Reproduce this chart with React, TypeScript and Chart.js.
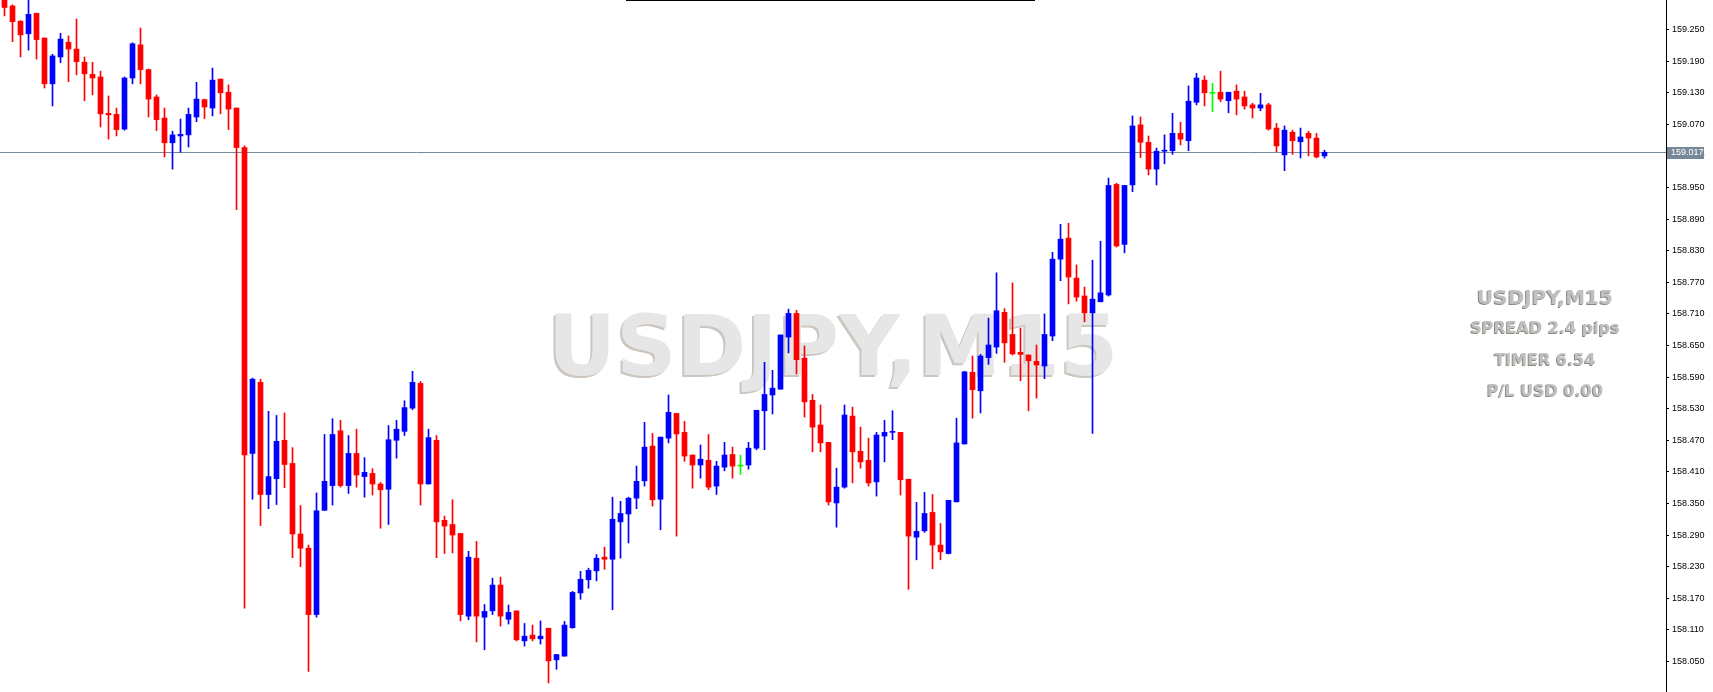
import React, { useEffect, useRef } from 'react';
import { Chart, registerables } from 'chart.js';

Chart.register(...registerables);

const opens = [
  159.310, 159.295, 159.266, 159.242, 159.281, 159.234, 159.147, 159.198, 159.226, 159.213,
  159.188, 159.165, 159.160, 159.091, 159.089, 159.061, 159.158, 159.221, 159.174, 159.122,
  159.082, 159.035, 159.048, 159.050, 159.084, 159.117, 159.101, 159.156, 159.131, 159.101,
  159.026, 158.445, 158.580, 158.367, 158.397, 158.470, 158.426, 158.292, 158.265, 158.139,
  158.337, 158.384, 158.488, 158.384, 158.445, 158.401, 158.407, 158.387, 158.377, 158.470,
  158.487, 158.531, 158.578, 158.387, 158.470, 158.318, 158.310, 158.293, 158.136, 158.246,
  158.134, 158.146, 158.195, 158.130, 158.146, 158.089, 158.100, 158.093, 158.113, 158.053,
  158.060, 158.114, 158.180, 158.205, 158.222, 158.248, 158.244, 158.315, 158.330, 158.360,
  158.393, 158.459, 158.358, 158.474, 158.521, 158.485, 158.442, 158.423, 158.432, 158.383,
  158.419, 158.443, 158.421, 158.423, 158.455, 158.526, 158.556, 158.567, 158.666, 158.711,
  158.626, 158.546, 158.499, 158.466, 158.351, 158.381, 158.516, 158.449, 158.432, 158.391,
  158.478, 158.485, 158.485, 158.396, 158.286, 158.298, 158.333, 158.271, 158.255, 158.353,
  158.463, 158.599, 158.564, 158.627, 158.647, 158.713, 158.671, 158.637, 158.632, 158.620,
  158.611, 158.668, 158.814, 158.854, 158.778, 158.744, 158.712, 158.733, 158.746, 158.956,
  158.842, 158.955, 159.069, 159.036, 158.985, 159.019, 159.020, 159.053, 159.039, 159.112,
  159.154, 159.129, 159.131, 159.115, 159.133, 159.122, 159.107, 159.101, 159.107, 159.063,
  159.012, 159.055, 159.037, 159.053, 159.044, 159.010,
];

const highs = [
  159.318, 159.297, 159.267, 159.310, 159.281, 159.234, 159.203, 159.243, 159.238, 159.270,
  159.198, 159.188, 159.171, 159.124, 159.101, 159.160, 159.225, 159.253, 159.175, 159.126,
  159.101, 159.057, 159.080, 159.101, 159.150, 159.118, 159.177, 159.156, 159.145, 159.101,
  159.029, 158.588, 158.586, 158.525, 158.517, 158.522, 158.456, 158.346, 158.271, 158.370,
  158.481, 158.511, 158.508, 158.479, 158.491, 158.437, 158.416, 158.390, 158.498, 158.508,
  158.545, 158.601, 158.582, 158.491, 158.479, 158.326, 158.357, 158.293, 158.259, 158.278,
  158.158, 158.208, 158.210, 158.157, 158.146, 158.122, 158.119, 158.127, 158.113, 158.063,
  158.126, 158.183, 158.221, 158.227, 158.253, 158.267, 158.362, 158.354, 158.362, 158.421,
  158.504, 158.483, 158.476, 158.556, 158.521, 158.506, 158.442, 158.461, 158.481, 158.430,
  158.466, 158.457, 158.442, 158.466, 158.527, 158.618, 158.603, 158.670, 158.719, 158.717,
  158.649, 158.557, 158.537, 158.466, 158.417, 158.537, 158.533, 158.495, 158.474, 158.485,
  158.508, 158.526, 158.485, 158.396, 158.352, 158.371, 158.367, 158.312, 158.356, 158.512,
  158.601, 158.630, 158.633, 158.702, 158.788, 158.720, 158.769, 158.683, 158.632, 158.651,
  158.710, 158.827, 158.880, 158.882, 158.803, 158.761, 158.812, 158.848, 158.968, 158.958,
  158.954, 159.086, 159.084, 159.048, 159.025, 159.050, 159.091, 159.074, 159.143, 159.167,
  159.162, 159.148, 159.171, 159.131, 159.145, 159.133, 159.110, 159.129, 159.110, 159.072,
  159.067, 159.059, 159.063, 159.057, 159.053, 159.021,
];

const lows = [
  159.276, 159.227, 159.198, 159.211, 159.194, 159.139, 159.105, 159.187, 159.151, 159.164,
  159.115, 159.126, 159.065, 159.042, 159.048, 159.059, 159.147, 159.147, 159.084, 159.058,
  159.008, 158.985, 159.017, 159.027, 159.075, 159.081, 159.086, 159.090, 159.060, 158.908,
  158.151, 158.358, 158.308, 158.340, 158.348, 158.380, 158.247, 158.230, 158.031, 158.134,
  158.337, 158.347, 158.381, 158.369, 158.381, 158.362, 158.366, 158.303, 158.310, 158.436,
  158.479, 158.528, 158.347, 158.387, 158.247, 158.255, 158.256, 158.127, 158.129, 158.087,
  158.072, 158.139, 158.117, 158.121, 158.089, 158.079, 158.089, 158.083, 158.009, 158.035,
  158.060, 158.113, 158.168, 158.189, 158.203, 158.225, 158.148, 158.246, 158.275, 158.340,
  158.383, 158.345, 158.300, 158.465, 158.288, 158.430, 158.379, 158.398, 158.376, 158.367,
  158.412, 158.398, 158.405, 158.415, 158.452, 158.452, 158.520, 158.567, 158.636, 158.596,
  158.514, 158.448, 158.448, 158.347, 158.305, 158.379, 158.389, 158.417, 158.383, 158.364,
  158.429, 158.471, 158.366, 158.187, 158.243, 158.295, 158.226, 158.243, 158.254, 158.353,
  158.463, 158.512, 158.522, 158.614, 158.635, 158.618, 158.632, 158.583, 158.526, 158.550,
  158.587, 158.659, 158.773, 158.729, 158.734, 158.695, 158.483, 158.733, 158.744, 158.837,
  158.826, 158.942, 159.007, 158.974, 158.955, 158.995, 159.013, 159.031, 159.020, 159.107,
  159.105, 159.094, 159.113, 159.092, 159.088, 159.099, 159.082, 159.096, 159.059, 159.018,
  158.982, 159.013, 159.006, 159.010, 159.006, 159.006,
];

const closes = [
  159.292, 159.265, 159.240, 159.279, 159.231, 159.147, 159.200, 159.232, 159.213, 159.189,
  159.166, 159.158, 159.090, 159.088, 159.060, 159.158, 159.223, 159.174, 159.118, 159.079,
  159.035, 159.050, 159.051, 159.089, 159.118, 159.103, 159.154, 159.130, 159.099, 159.026,
  158.442, 158.586, 158.367, 158.401, 158.468, 158.424, 158.292, 158.265, 158.139, 158.336,
  158.392, 158.481, 158.384, 158.445, 158.404, 158.409, 158.387, 158.376, 158.471, 158.491,
  158.532, 158.580, 158.387, 158.475, 158.315, 158.307, 158.290, 158.139, 158.248, 158.136,
  158.145, 158.195, 158.136, 158.143, 158.091, 158.098, 158.093, 158.098, 158.051, 158.063,
  158.119, 158.181, 158.206, 158.223, 158.246, 158.244, 158.320, 158.331, 158.360, 158.392,
  158.457, 158.357, 158.476, 158.523, 158.482, 158.440, 158.423, 158.434, 158.381, 158.421,
  158.442, 158.421, 158.421, 158.455, 158.527, 158.557, 158.569, 158.670, 158.711, 158.623,
  158.543, 158.495, 158.465, 158.353, 158.381, 158.518, 158.448, 158.429, 158.389, 158.480,
  158.485, 158.486, 158.395, 158.288, 158.297, 158.331, 158.271, 158.258, 158.356, 158.465,
  158.600, 158.566, 158.630, 158.651, 158.716, 158.655, 158.634, 158.633, 158.621, 158.613,
  158.671, 158.814, 158.852, 158.780, 158.742, 158.712, 158.738, 158.750, 158.954, 158.839,
  158.954, 159.067, 159.036, 158.985, 159.019, 159.020, 159.053, 159.042, 159.114, 159.158,
  159.130, 159.129, 159.118, 159.131, 159.118, 159.105, 159.101, 159.107, 159.061, 159.029,
  159.059, 159.039, 159.046, 159.044, 159.008, 159.017,
];

const yTickValues = [
  159.25, 159.19, 159.13, 159.07, 159.01, 158.95, 158.89, 158.83, 158.77, 158.71,
  158.65, 158.59, 158.53, 158.47, 158.41, 158.35, 158.29, 158.23, 158.17, 158.11, 158.05,
];
const clippedTopTick = 159.31;

const currentPrice = 159.017;
const watermarkText = 'USDJPY,M15';
const infoLines = ['USDJPY,M15', 'SPREAD 2.4 pips', 'TIMER 6.54', 'P/L USD 0.00'];

const Y_MAX = 159.3062;
const Y_MIN = 157.9919;
const X_MIN = -0.5625;
const X_MAX = 207.6875;

export default function App() {
  const ref = useRef<HTMLCanvasElement>(null);

  useEffect(() => {
    document.body.style.margin = '0';
    const canvas = ref.current;
    if (!canvas) return;

    const colors = opens.map((o, i) =>
      closes[i] > o ? '#0000ff' : closes[i] < o ? '#ff0000' : '#00ff00'
    );
    const bodies = opens.map((o, i) => ({ x: i, y: [o, closes[i]] }));
    const wicks = opens.map((_, i) => ({ x: i, y: [lows[i], highs[i]] }));

    const overlay = {
      id: 'overlay',
      beforeDatasetsDraw(chart: any) {
        const ctx = chart.ctx;
        const area = chart.chartArea;
        const ys = chart.scales.y;
        ctx.save();
        ctx.font = 'bold 84px "DejaVu Sans"';
        ctx.textAlign = 'center';
        ctx.textBaseline = 'alphabetic';
        ctx.fillStyle = '#cdc6bf';
        ctx.fillText(watermarkText, 831, 377);
        ctx.fillStyle = '#e6e6e6';
        ctx.fillText(watermarkText, 833, 375);
        const py = Math.round(ys.getPixelForValue(currentPrice)) + 0.5;
        ctx.strokeStyle = '#778899';
        ctx.lineWidth = 1;
        ctx.beginPath();
        ctx.moveTo(area.left, py);
        ctx.lineTo(area.right, py);
        ctx.stroke();
        ctx.restore();
      },
      afterDraw(chart: any) {
        const ctx = chart.ctx;
        const ys = chart.scales.y;
        const area = chart.chartArea;
        ctx.save();
        ctx.fillStyle = '#000000';
        ctx.fillRect(626, 0, 409, 1);
        // partially clipped top tick label
        const ty = Math.round(ys.getPixelForValue(clippedTopTick));
        ctx.font = '9px "Liberation Sans"';
        ctx.textAlign = 'left';
        ctx.textBaseline = 'middle';
        ctx.fillText(clippedTopTick.toFixed(3), area.right + 6, ty);
        // info block
        ctx.textAlign = 'center';
        ctx.textBaseline = 'alphabetic';
        const sizes = [20, 16, 16, 16];
        const bases = [304, 333, 365, 396];
        infoLines.forEach((t, k) => {
          ctx.font = `bold ${sizes[k]}px "DejaVu Sans"`;
          ctx.fillStyle = '#8f867e';
          ctx.fillText(t, 1544, bases[k] + 1);
          ctx.fillStyle = '#c0c0c0';
          ctx.fillText(t, 1545, bases[k]);
        });
        const py = Math.round(ys.getPixelForValue(currentPrice));
        ctx.fillStyle = '#778899';
        ctx.fillRect(1667, py - 5, 37, 12);
        ctx.fillStyle = '#ffffff';
        ctx.font = '9px "Liberation Sans"';
        ctx.textAlign = 'left';
        ctx.textBaseline = 'middle';
        ctx.fillText(currentPrice.toFixed(3), 1671, py + 1);
        ctx.restore();
      },
    };

    const chart = new Chart(canvas, {
      type: 'bar',
      data: {
        datasets: [
          {
            label: 'body',
            data: bodies as any,
            backgroundColor: colors,
            borderWidth: 0,
            barThickness: 5,
            grouped: false,
            minBarLength: 1,
            order: 0,
          } as any,
          {
            label: 'wick',
            data: wicks as any,
            backgroundColor: colors,
            borderWidth: 0,
            barThickness: 1,
            grouped: false,
            order: 1,
          } as any,
        ],
      },
      options: {
        responsive: false,
        animation: false,
        devicePixelRatio: 1,
        layout: { padding: 0 },
        plugins: {
          legend: { display: false },
          tooltip: { enabled: false },
        },
        scales: {
          x: {
            type: 'linear',
            display: false,
            min: X_MIN,
            max: X_MAX,
            offset: false,
          },
          y: {
            type: 'linear',
            position: 'right',
            min: Y_MIN,
            max: Y_MAX,
            afterBuildTicks: (s: any) => {
              s.ticks = yTickValues.map((v) => ({ value: v }));
            },
            afterFit: (s: any) => {
              s.width = 47;
              s.paddingTop = 0;
              s.paddingBottom = 0;
            },
            ticks: {
              autoSkip: false,
              padding: 3,
              color: '#000000',
              font: { family: 'Liberation Sans', size: 9 },
              callback: (v: any) => Number(v).toFixed(3),
            },
            grid: {
              drawOnChartArea: false,
              drawTicks: true,
              tickLength: 3,
              color: '#000000',
            },
            border: { display: true, color: '#000000', width: 1 },
          },
        },
      } as any,
      plugins: [overlay],
    });

    return () => chart.destroy();
  }, []);

  return (
    <div style={{ position: 'fixed', left: 0, top: 0, background: '#ffffff' }}>
      <canvas ref={ref} width={1713} height={692} style={{ display: 'block', width: 1713, height: 692 }} />
    </div>
  );
}
